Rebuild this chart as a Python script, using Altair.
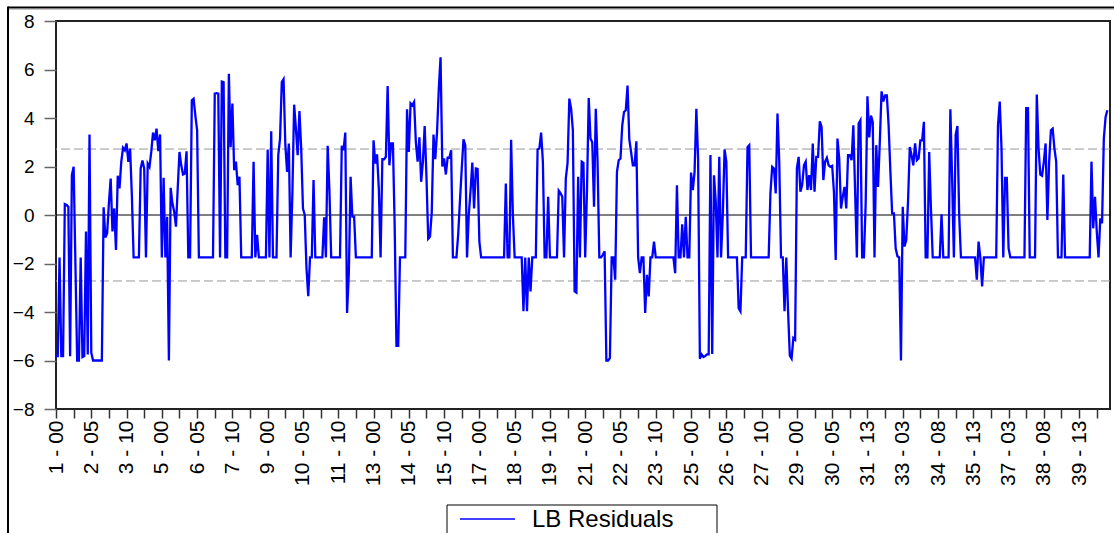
import altair as alt
import pandas as pd

# Residual series, one value per observation (cross-section - period)
residuals = [
    -5.82, -5.82, -1.75, -5.82, -5.82, 0.45, 0.41, 0.34, -5.82, 1.64,
    1.99, -2.0, -6.0, -6.0, -1.75, -5.86, -5.82, -0.68, -5.75, 3.32,
    -5.68, -6.0, -6.0, -6.0, -6.0, -6.0, -6.0, 0.32, -0.93, -0.75,
    0.5, 1.5, -0.68, 0.27, -1.44, 1.62, 1.1, 2.19, 2.77, 2.67,
    2.95, 2.19, 2.74, 0.82, -1.75, -1.75, -1.75, -1.75, 1.92, 2.25,
    1.92, -1.75, 2.12, 1.99, 2.6, 3.4, 3.08, 3.56, 2.63, 3.32,
    -1.75, 1.53, -1.75, -0.07, -6.0, 1.12, 0.48, 0.14, -0.48, 1.1,
    2.6, 2.05, 1.67, 1.71, 2.63, -1.75, -1.75, 4.73, 4.79, 4.1,
    3.49, -1.75, -1.75, -1.75, -1.75, -1.75, -1.75, -1.75, -1.75, -1.75,
    5.0, 5.02, 5.0, -1.75, 5.5, 5.48, -1.75, -1.75, 5.82, 2.8,
    4.6, 1.85, 2.2, 1.23, 1.58, -1.75, -1.75, -1.75, -1.75, -1.75,
    -1.75, -1.75, 2.2, -1.75, -0.82, -1.75, -1.75, -1.75, -1.75, -1.75,
    2.7, -1.75, 3.45, -1.75, -1.75, -1.75, 2.47, 3.15, 5.48, 5.6,
    2.9, 1.78, 2.95, -1.75, 0.9, 4.55, 3.56, 2.47, 4.29, 2.74,
    0.27, 0.0, -2.2, -3.35, -1.75, -1.75, 1.44, -1.75, -1.75, -1.75,
    -1.75, -1.75, -0.1, -1.75, 2.85, 1.0, -1.75, -1.75, -1.75, -1.75,
    -1.75, -1.75, 2.85, 2.68, 3.4, -4.04, -2.4, 1.58, -0.07, -0.07,
    -1.75, -1.75, -1.75, -1.75, -1.75, -1.75, -1.75, -1.75, -1.75, -1.75,
    3.08, 2.12, 2.5, 1.1, -1.75, 2.3, 2.3, 2.4, 5.32, 2.05,
    2.95, 2.95, -0.5, -5.4, -5.4, -1.75, -1.75, -1.75, -1.75, 4.36,
    2.6, 4.6, 4.52, 4.66, 3.0, 2.2, 3.2, 1.37, 2.2, 3.67,
    1.6, -0.98, -0.9, 0.1, 3.32, 2.3, 3.4, 5.2, 6.5, 2.0,
    2.33, 1.67, 2.36, 2.36, 2.67, -1.75, -1.75, -1.75, -0.8, 0.6,
    1.9, 3.12, 2.88, -1.75, 0.0, 1.0, 2.16, 0.27, 1.92, 1.9,
    -1.1, -1.75, -1.75, -1.75, -1.75, -1.75, -1.75, -1.75, -1.75, -1.75,
    -1.75, -1.75, -1.75, -1.75, -1.75, 1.3, -1.75, -1.75, 3.1, 0.0,
    -1.75, -1.75, -1.75, -1.75, -1.75, -3.97, -1.75, -3.97, -1.75, -3.15,
    -1.75, -1.75, -1.75, 2.7, 2.74, 3.4, 2.2, -1.75, -1.75, 0.75,
    -1.75, -1.75, -1.75, -1.75, -1.75, 1.0, 0.9, 0.75, -1.75, 1.5,
    2.15, 4.8, 4.4, 3.5, -3.15, -3.2, 1.58, -1.75, 2.2, 2.15,
    -1.75, 1.0, 4.82, 3.15, 3.0, 0.34, 4.38, 2.2, -1.75, -1.75,
    -1.64, -1.5, -6.0, -6.0, -5.9, -1.75, -1.75, -2.67, 1.78, 2.26,
    2.33, 3.7, 4.25, 4.32, 5.34, 3.12, 2.6, 2.05, 2.05, 3.04,
    -1.75, -2.4, -1.75, -1.75, -4.04, -2.47, -3.36, -1.75, -1.75, -1.1,
    -1.75, -1.75, -1.75, -1.75, -1.75, -1.75, -1.75, -1.75, -1.75, -1.75,
    -1.75, -2.4, 1.23, -1.75, -1.75, -0.38, -1.75, -0.07, -1.75, -1.75,
    1.75, 1.03, 1.78, 4.38, 2.33, -5.93, -5.75, -5.86, -5.82, -5.75,
    -5.75, 2.47, -5.73, 1.64, 0.55, -1.75, 2.4, -1.75, 0.0, 2.7,
    2.2, -1.75, -1.75, -1.75, -1.75, -1.75, -1.75, -3.84, -3.97, -1.75,
    -1.75, -1.75, 2.8, 2.88, -1.75, -1.75, -1.75, -1.75, -1.75, -1.75,
    -1.75, -1.75, -1.75, -1.75, -1.75, 0.89, 1.99, 1.92, 0.89, 4.18,
    2.2, -1.75, -1.75, -3.97, -1.75, -3.97, -5.8, -5.92, -5.07, -5.14,
    1.92, 2.4, 0.96, 1.23, 2.05, 2.2, 1.03, 1.64, 1.03, 2.95,
    0.96, 2.4, 2.4, 3.86, 3.63, 1.44, 2.2, 2.36, 2.05, 1.99,
    2.03, 0.96, -1.85, 3.15, 2.33, 0.27, 0.75, 1.16, 0.27, 2.47,
    2.47, 2.26, 3.7, 1.0, -1.75, 3.77, 3.9, -1.75, -1.75, 0.5,
    4.9, 3.2, 4.1, 3.84, -1.75, 2.88, 1.16, 3.0, 5.1, 4.68,
    4.93, 4.93, 3.7, 1.8, 0.07, 0.07, -1.37, -1.7, -1.75, -6.0,
    0.34, -1.3, -1.03, 0.55, 2.8, 2.47, 2.05, 2.95, 2.26, 2.33,
    3.08, 3.08, 3.84, -1.75, -1.75, 2.6, 0.27, -1.75, -1.75, -1.75,
    -1.75, -1.75, 0.03, -1.75, -1.75, -1.75, -1.75, 4.36, 1.5, -1.75,
    3.3, 3.67, 0.0, -1.75, -1.75, -1.75, -1.75, -1.75, -1.75, -1.75,
    -1.75, -1.75, -2.67, -1.1, -1.75, -2.95, -1.75, -1.75, -1.75, -1.75,
    -1.75, -1.75, -1.75, -1.75, 3.7, 4.68, 2.74, -1.75, 1.53, 1.53,
    -1.37, -1.75, -1.75, -1.75, -1.75, -1.75, -1.75, -1.75, -1.75, -1.75,
    4.41, 4.41, -1.75, -1.75, -1.75, -1.75, 4.97, 2.74, 1.67, 1.62,
    2.2, 2.95, -0.2, 2.2, 3.49, 3.56, 2.74, 2.2, -1.75, -1.75,
    -1.75, 1.67, -1.75, -1.75, -1.75, -1.75, -1.75, -1.75, -1.75, -1.75,
    -1.75, -1.75, -1.75, -1.75, -1.75, -1.75, -1.75, 2.2, -0.55, 0.75,
    -0.68, -1.75, -0.14, -0.34, 3.15, 4.04, 4.32,
]

# Observation labels shown every 20 observations
tick_labels = [
    "1 - 00", "2 - 05", "3 - 10", "5 - 00", "6 - 05", "7 - 10",
    "9 - 00", "10 - 05", "11 - 10", "13 - 00", "14 - 05", "15 - 10",
    "17 - 00", "18 - 05", "19 - 10", "21 - 00", "22 - 05", "23 - 10",
    "25 - 00", "26 - 05", "27 - 10", "29 - 00", "30 - 05", "31 - 13",
    "33 - 03", "34 - 08", "35 - 13", "37 - 03", "38 - 08", "39 - 13",
]

# +/- two standard error band
band_levels = [2.72, -2.72]

series_name = "LB Residuals"
FONT = "Liberation Sans"
BLUE = "#0000ff"

df = pd.DataFrame({
    "obs": list(range(len(residuals))),
    "resid": residuals,
})
bands = pd.DataFrame({"level": band_levels})
zero = pd.DataFrame({"level": [0.0]})
one_row = pd.DataFrame({"k": [0]})
legend_rows = pd.DataFrame({"series": [series_name]})

labels_js = "[" + ",".join("'%s'" % s for s in tick_labels) + "]"
label_expr = "datum.value %% 20 === 0 ? %s[datum.value / 20] : ''" % labels_js

x_scale = alt.Scale(domain=[0, 597.5], nice=False, zero=False)
y_scale = alt.Scale(domain=[-8, 8], nice=False, zero=False)

x_axis = alt.Axis(
    values=list(range(0, 600, 10)),
    labelExpr=label_expr,
    labelAngle=270,
    labelFont=FONT,
    labelFontSize=21,
    labelColor="black",
    labelPadding=2,
    labelOverlap=False,
    labelFlush=False,
    tickSize=9,
    tickColor="#333333",
    tickWidth=1.5,
    domain=False,
    grid=False,
    title=None,
)
y_axis = alt.Axis(
    values=list(range(-8, 9, 2)),
    labelFont=FONT,
    labelFontSize=19,
    labelColor="black",
    labelPadding=10,
    tickSize=12,
    tickColor="#666666",
    tickWidth=1.5,
    domain=False,
    grid=False,
    title=None,
)

band_layer = alt.Chart(bands).mark_rule(
    color="#999999", strokeDash=[9, 4], strokeWidth=1
).encode(y=alt.Y("level:Q", scale=y_scale, axis=y_axis))

zero_layer = alt.Chart(zero).mark_rule(color="black", strokeWidth=1).encode(
    y=alt.Y("level:Q", scale=y_scale, axis=y_axis)
)

line_layer = alt.Chart(df).mark_line(strokeWidth=2.3, clip=True, color=BLUE).encode(
    x=alt.X("obs:Q", scale=x_scale, axis=x_axis),
    y=alt.Y("resid:Q", scale=y_scale, axis=y_axis),
)

# legend box below the plot
legend_box = alt.Chart(one_row).mark_rect(
    fill="white", stroke="black", strokeWidth=1
).encode(x=alt.value(391), x2=alt.value(661), y=alt.value(484), y2=alt.value(540))
legend_swatch = alt.Chart(one_row).mark_rule(color=BLUE, strokeWidth=1.3).encode(
    x=alt.value(404), x2=alt.value(459), y=alt.value(498)
)
legend_label = alt.Chart(legend_rows).mark_text(
    align="left", baseline="middle", font=FONT, fontSize=24, color="black"
).encode(text="series:N", x=alt.value(476), y=alt.value(499))

# outer frame lines of the graph window
frame_top = alt.Chart(one_row).mark_rule(color="black", strokeWidth=2).encode(
    x=alt.value(-48), x2=alt.value(1060), y=alt.value(-13.5)
)
frame_top_shadow = alt.Chart(one_row).mark_rule(color="#c8c8c8", strokeWidth=1).encode(
    x=alt.value(-47), x2=alt.value(1060), y=alt.value(-11.5)
)
frame_left = alt.Chart(one_row).mark_rule(color="black", strokeWidth=2).encode(
    x=alt.value(-48), y=alt.value(-14.5), y2=alt.value(520)
)

chart = (
    alt.layer(
        band_layer, zero_layer, line_layer,
        legend_box, legend_swatch, legend_label,
        frame_top, frame_top_shadow, frame_left,
    )
    .properties(
        width=1054,
        height=388,
        autosize=alt.AutoSizeParams(type="none"),
        padding={"left": 56, "top": 21, "right": 4, "bottom": 124},
        background="white",
    )
    .configure_view(stroke="#222222", strokeWidth=2)
)

chart.save("out.html", embed_options={"renderer": "svg", "actions": False})
